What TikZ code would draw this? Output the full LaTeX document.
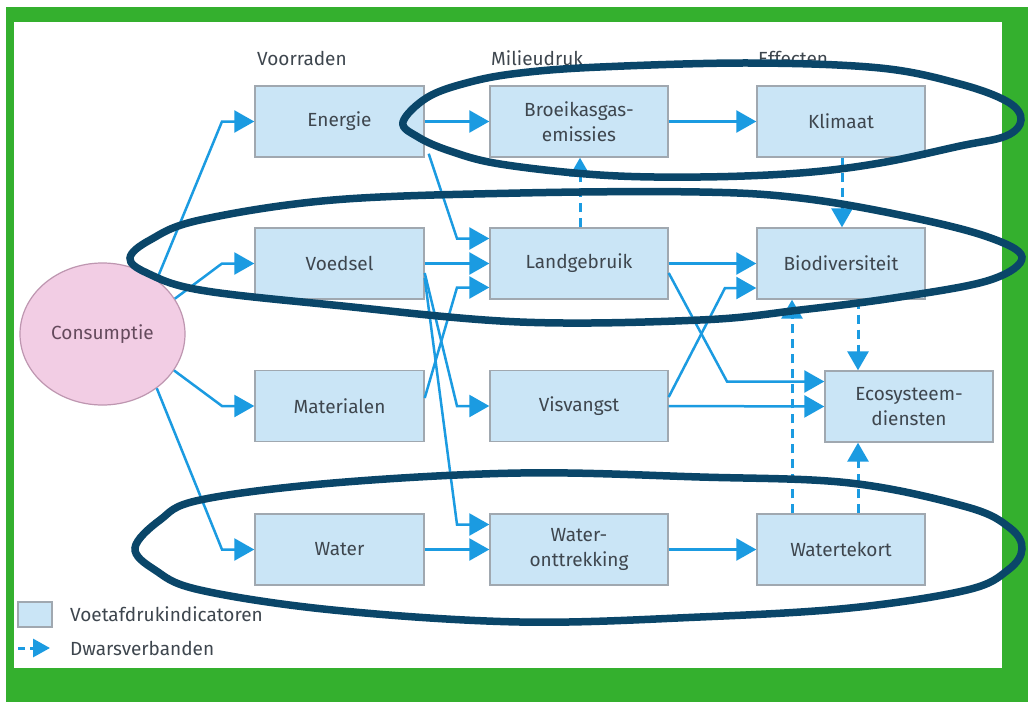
\documentclass[tikz,border=0pt]{standalone}
\usepackage{fontspec}
\setmainfont{Fira Sans}
\usetikzlibrary{arrows.meta,shapes.geometric,calc}

\definecolor{framegreen}{RGB}{52,176,46}
\definecolor{boxfill}{RGB}{202,229,246}
\definecolor{boxline}{RGB}{160,168,176}
\definecolor{flowblue}{RGB}{27,155,225}
\definecolor{ringnavy}{RGB}{10,70,105}
\definecolor{labelgray}{RGB}{62,70,78}
\definecolor{consfill}{RGB}{242,205,228}
\definecolor{consline}{RGB}{190,150,176}
\definecolor{constext}{RGB}{100,74,92}

\begin{document}
\begin{tikzpicture}[x=1pt,y=-1pt,
  every node/.style={font=\fontsize{19}{25}\selectfont, text=labelgray},
  indicator/.style={rectangle, draw=boxline, line width=1.4pt, fill=boxfill,
    minimum height=71pt, inner sep=0pt, align=center},
  colA/.style={indicator, minimum width=169pt},
  colB/.style={indicator, minimum width=178pt},
  colC/.style={indicator, minimum width=168pt},
  header/.style={anchor=west, inner sep=0pt},
  flow/.style={draw=flowblue, line width=2.5pt, line join=miter,
    -{Triangle[length=20pt,width=22pt]}},
  cross/.style={draw=flowblue, line width=3pt, dash pattern=on 9pt off 6pt,
    -{Triangle[length=19pt,width=21pt]}},
  ring/.style={draw=ringnavy, line width=7.5pt}
]
\useasboundingbox (0,0) rectangle (1028,702);
\fill[white] (0,0) rectangle (1028,702);
\fill[framegreen] (6,7) rectangle (1028,702);
\fill[white] (14,22) rectangle (1002,668);

% column headers
\node[header] (hVoorraden) at (257,58) {Voorraden};
\node[header] (hMilieudruk) at (491,58) {Milieudruk};
\node[header] (hEffecten) at (758,58) {Effecten};

% consumption
\node[ellipse, draw=consline, line width=1.2pt, fill=consfill, text=constext,
  minimum width=165pt, minimum height=142pt, inner sep=0pt] (cons) at (102.5,334) {Consumptie};

% stocks
\node[colA] (energie) at (339.5,121.5) {Energie};
\node[colA] (voedsel) at (339.5,263.5) {Voedsel};
\node[colA] (materialen) at (339.5,406) {Materialen};
\node[colA] (water) at (339.5,549.5) {Water};

% environmental pressure
\node[colB] (broeikas) at (579,121.5) {Broeikasgas-\\emissies};
\node[colB] (landgebruik) at (579,263.5) {Landgebruik};
\node[colB] (visvangst) at (579,406) {Visvangst};
\node[colB] (wonttr) at (579,549.5) {Water-\\onttrekking};

% effects
\node[colC] (klimaat) at (841,121.5) {Klimaat};
\node[colC] (biodiv) at (841,263.5) {Biodiversiteit};
\node[colC] (watertekort) at (841,549.5) {Watertekort};
\node[colC] (eco) at (909,406.5) {Ecosysteem-\\diensten};

% ports
\coordinate (lg-in1) at ([yshift=25pt]landgebruik.west);
\coordinate (lg-in3) at ([yshift=-24pt]landgebruik.west);
\coordinate (wo-in1) at ([yshift=25pt]wonttr.west);
\coordinate (bd-in2) at ([yshift=-24.5pt]biodiv.west);
\coordinate (eco-in1) at ([yshift=25pt]eco.west);
\coordinate (en-out) at ([shift={(4pt,4pt)}]energie.south east);
\coordinate (vo-out1) at ([yshift=-9.5pt]voedsel.east);
\coordinate (vo-out2) at ([yshift=-14.5pt]voedsel.east);
\coordinate (ma-out) at ([yshift=8pt]materialen.east);
\coordinate (lg-out2) at ([yshift=-9.5pt]landgebruik.east);
\coordinate (vi-out1) at ([yshift=9pt]visvangst.east);

% consumption to stocks
\draw[flow] (cons.45) -- (222,0 |- energie.west) -- (energie.west);
\draw[flow] (cons.26) -- (222,0 |- voedsel.west) -- (voedsel.west);
\draw[flow] (cons.-27) -- (222,0 |- materialen.west) -- (materialen.west);
\draw[flow] (cons.-45) -- (222,0 |- water.west) -- (water.west);

% stocks to pressure
\draw[flow] (energie.east) -- (broeikas.west);
\draw[flow] (en-out) -- (457,0 |- lg-in1) -- (lg-in1);
\draw[flow] (voedsel.east) -- (landgebruik.west);
\draw[flow] (ma-out) -- (457,0 |- lg-in3) -- (lg-in3);
\draw[flow] (vo-out1) -- (457,0 |- visvangst.west) -- (visvangst.west);
\draw[flow] (vo-out2) -- (457,0 |- wo-in1) -- (wo-in1);
\draw[flow] (water.east) -- (wonttr.west);

% pressure to effects
\draw[flow] (broeikas.east) -- (klimaat.west);
\draw[flow] (landgebruik.east) -- (biodiv.west);
\draw[flow] (vi-out1) -- (725,0 |- bd-in2) -- (bd-in2);
\draw[flow] (lg-out2) -- (727,0 |- eco-in1) -- (eco-in1);
\draw[flow] (visvangst.east) -- (eco.west);
\draw[flow] (wonttr.east) -- (watertekort.west);

% cross links
\draw[cross] ([xshift=1pt]landgebruik.north) -- ([xshift=1pt]broeikas.south);
\draw[cross] ([xshift=1pt]klimaat.south) -- ([xshift=1pt]biodiv.north);
\draw[cross] ([xshift=17pt]biodiv.south) -- ([xshift=-51pt]eco.north);
\draw[cross] ([xshift=-49pt]watertekort.north) -- ([xshift=-49pt]biodiv.south);
\draw[cross] ([xshift=17pt]watertekort.north) -- ([xshift=-51pt]eco.south);

% legend
\node[rectangle, draw=boxline, line width=1.4pt, fill=boxfill, minimum width=34pt,
  minimum height=25pt, inner sep=0pt] (legbox) at (35,614.5) {};
\node[anchor=west, inner sep=0pt] (legbox-text) at (70,614) {Voetafdrukindicatoren};
\coordinate (legdash-a) at (18,648);
\coordinate (legdash-b) at (50,648);
\draw[draw=flowblue, line width=3pt, dash pattern=on 7pt off 5pt,
  -{Triangle[length=17pt,width=18pt]}] (legdash-a) -- (legdash-b);
\node[anchor=west, inner sep=0pt] (legdash-text) at (70,648) {Dwarsverbanden};

% hand-drawn rings
\draw[ring] plot[smooth cycle, tension=0.6] coordinates {
  (403,122) (428,97) (470,82) (520,73) (600,67) (750,63) (880,68)
  (960,84) (1008,102) (1021,120) (1006,136) (960,146) (880,163)
  (800,173) (700,177) (600,175) (500,164) (450,151) (418,137)};
\draw[ring] plot[smooth cycle, tension=0.6] coordinates {
  (130,258) (150,240) (200,220) (333,200) (520,193) (700,192) (800,198)
  (900,215) (985,236) (1022,257) (990,280) (900,297)
  (800,310) (700,320) (520,322) (333,305) (200,290) (147,273)};
\draw[ring] plot[smooth cycle, tension=0.6] coordinates {
  (135,548) (160,520) (200,500) (333,483) (520,473) (700,477) (850,483)
  (967,507) (1010,528) (1022,549) (1008,570) (967,590) (850,608) (700,617)
  (520,622) (333,610) (200,590) (155,570)};
\end{tikzpicture}
\end{document}
